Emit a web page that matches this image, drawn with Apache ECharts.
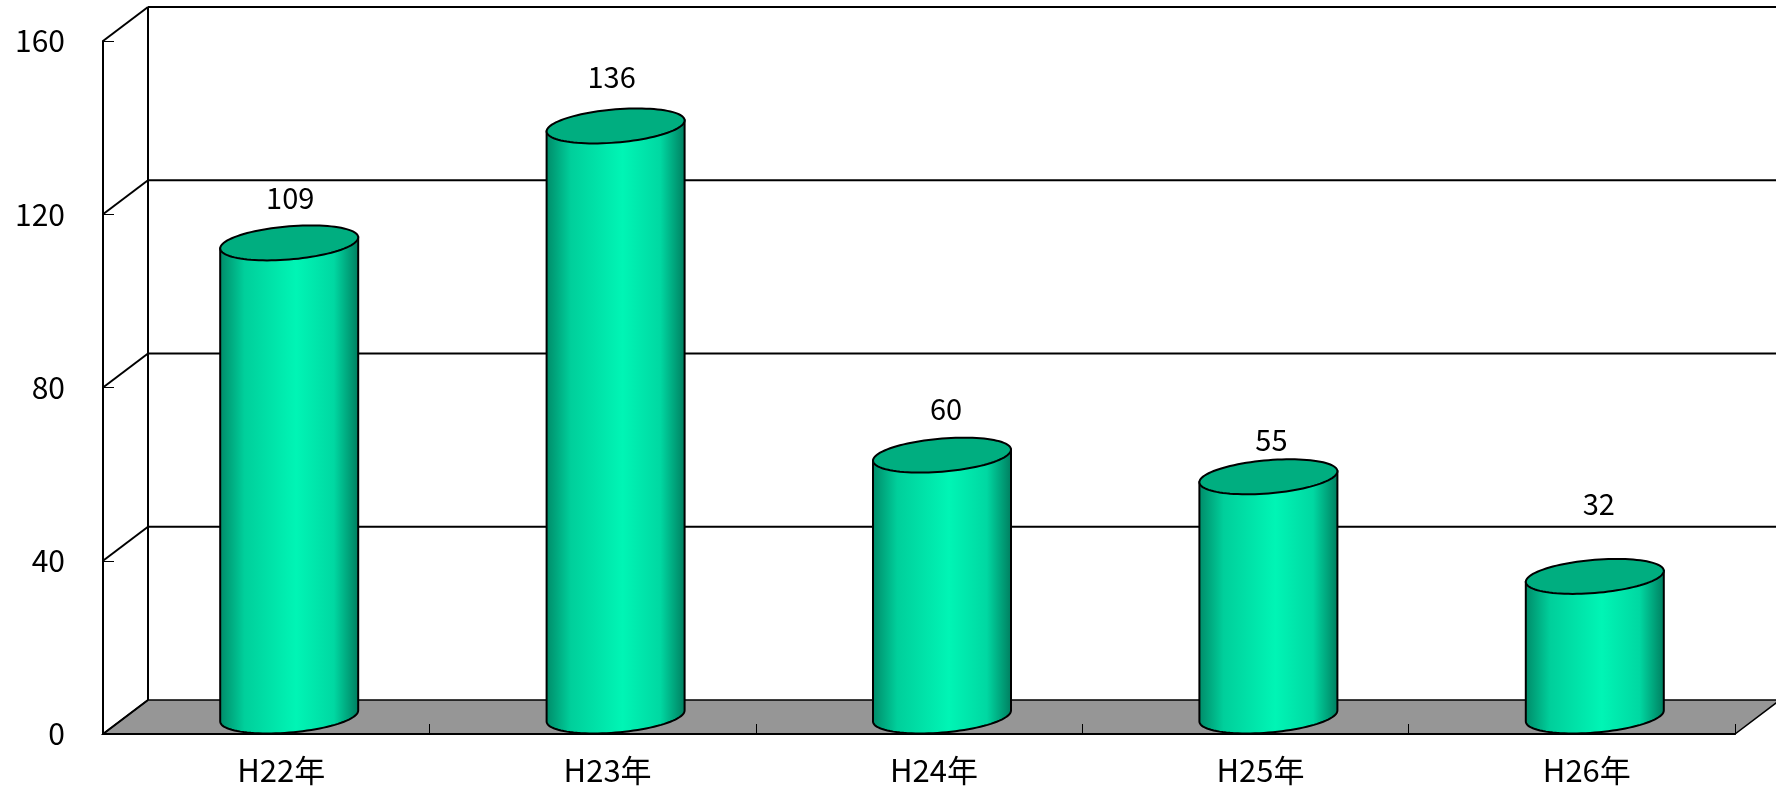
<!DOCTYPE html>
<html>
<head>
<meta charset="utf-8">
<style>
  html, body { margin: 0; background: #fff; }
  #chart { width: 1776px; height: 790px; }
</style>
<script src="https://cdn.jsdelivr.net/npm/echarts@6/dist/echarts.min.js"></script>
</head>
<body>
<div id="chart"></div>
<script>
const categories = ['H22年', 'H23年', 'H24年', 'H25年', 'H26年']
const values = [109, 136, 60, 55, 32]
const yTicks = [0, 40, 80, 120, 160]

// label offsets from the cylinder top, read per bar because the source places them by hand
const labelLift = [45, 49, 46, 37, 72]
const labelShift = [0, -5, 3, 2, 3]

const FONT = '"Noto Sans CJK JP", sans-serif'
const DEPTH_X = 45
const DEPTH_Y = -34

// skewed ellipse, same shape for the top and the bottom of a cylinder
function ellipsePoint(cx, cy, t) {
  return [cx + 69 * Math.cos(t), cy - 5.5 * Math.cos(t) + 16.6 * Math.sin(t)]
}

function renderFrame(params, api) {
  const v = api.value(1)
  const front = api.coord([0, v])
  const sys = params.coordSys
  const x0 = sys.x
  const x1 = sys.x + sys.width
  const y = front[1]
  const line = { stroke: '#000', lineWidth: 2, fill: 'none' }
  const children = []
  if (v === 0) {
    children.push({
      type: 'polygon',
      shape: { points: [[x0, y], [x1, y], [x1 + DEPTH_X, y + DEPTH_Y], [x0 + DEPTH_X, y + DEPTH_Y]] },
      style: { fill: '#969696', stroke: '#000', lineWidth: 1.5 },
    })
    children.push({
      type: 'line',
      shape: { x1: x0 + DEPTH_X, y1: y + DEPTH_Y, x2: x0 + DEPTH_X, y2: api.coord([0, 160])[1] + DEPTH_Y },
      style: line,
    })
  } else {
    children.push({
      type: 'line',
      shape: { x1: x0 + DEPTH_X, y1: y + DEPTH_Y, x2: x1 + DEPTH_X, y2: y + DEPTH_Y },
      style: line,
    })
  }
  children.push({
    type: 'line',
    shape: { x1: x0, y1: y, x2: x0 + DEPTH_X, y2: y + DEPTH_Y },
    style: line,
  })
  return { type: 'group', children }
}

function renderCylinder(params, api) {
  const i = api.value(0)
  const v = api.value(1)
  const base = api.coord([i, 0])
  const top = api.coord([i, v])
  const cx = base[0] + 23
  const bottomY = base[1] - 18
  const topY = top[1] - 19

  const body = [ellipsePoint(cx, topY, Math.PI), ellipsePoint(cx, bottomY, Math.PI)]
  for (let k = 1; k <= 48; k++) {
    body.push(ellipsePoint(cx, bottomY, Math.PI - (Math.PI * k) / 48))
  }
  body.push(ellipsePoint(cx, topY, 0))
  const lid = []
  for (let k = 0; k < 96; k++) {
    lid.push(ellipsePoint(cx, topY, (2 * Math.PI * k) / 96))
  }

  return {
    type: 'group',
    children: [
      {
        type: 'polygon',
        shape: { points: body },
        style: {
          stroke: '#000',
          lineWidth: 2,
          fill: new echarts.graphic.LinearGradient(0, 0, 1, 0, [
            { offset: 0, color: '#008a68' },
            { offset: 0.18, color: '#00cf9b' },
            { offset: 0.55, color: '#00f5b5' },
            { offset: 0.82, color: '#00d8a2' },
            { offset: 1, color: '#007c5e' },
          ]),
        },
      },
      {
        type: 'polygon',
        shape: { points: lid },
        style: { fill: '#00ae80', stroke: '#000', lineWidth: 2 },
      },
      {
        type: 'text',
        style: {
          x: cx + 1 + labelShift[i],
          y: topY - labelLift[i],
          text: String(v),
          fill: '#000',
          font: '29px ' + FONT,
          align: 'center',
          verticalAlign: 'middle',
        },
      },
    ],
  }
}

const chart = echarts.init(document.getElementById('chart'))
chart.setOption({
  animation: false,
  backgroundColor: '#fff',
  grid: { left: 103, right: 41, top: 41, bottom: 56 },
  xAxis: {
    type: 'category',
    data: categories,
    z: 2,
    axisLine: { lineStyle: { color: '#000', width: 2 } },
    axisTick: { show: true, inside: true, length: 10, alignWithLabel: false, lineStyle: { color: '#000', width: 1 } },
    axisLabel: { color: '#000', fontFamily: FONT, fontSize: 31, margin: 21, padding: [0, 0, 0, 30] },
  },
  yAxis: {
    type: 'value',
    min: 0,
    max: 160,
    interval: 40,
    z: 2,
    splitLine: { show: false },
    axisLine: { show: true, lineStyle: { color: '#000', width: 2 } },
    axisTick: { show: true, inside: true, length: 11, lineStyle: { color: '#000', width: 1 } },
    axisLabel: { color: '#000', fontFamily: FONT, fontSize: 30, margin: 38, padding: [0, 0, 4, 0] },
  },
  series: [
    {
      type: 'custom',
      z: 1,
      silent: true,
      renderItem: renderFrame,
      encode: { x: 0, y: 1 },
      data: yTicks.map((v) => [0, v]),
    },
    {
      type: 'custom',
      z: 3,
      renderItem: renderCylinder,
      encode: { x: 0, y: 1 },
      data: values.map((v, i) => [i, v]),
    },
  ],
})
</script>
</body>
</html>
